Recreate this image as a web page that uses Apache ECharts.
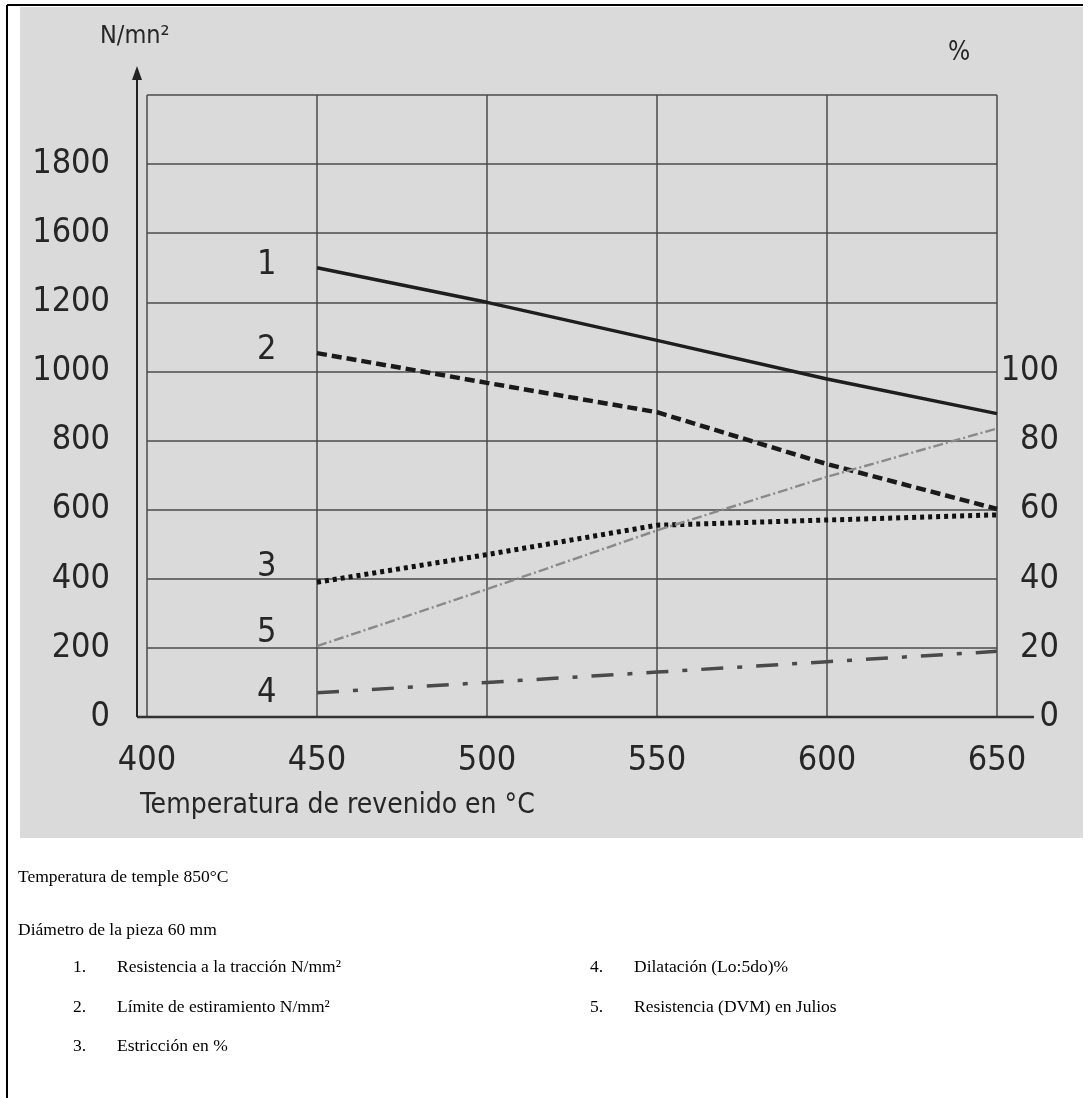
<!DOCTYPE html>
<html>
<head>
<meta charset="utf-8">
<script src="https://cdn.jsdelivr.net/npm/echarts@6/dist/echarts.min.js"></script>
<style>
html,body{margin:0;padding:0;background:#fff;}
#chart{width:1089px;height:1098px;}
</style>
</head>
<body>
<div id="chart"></div>
<script>
// ---- data ----
const temps = [450, 500, 550, 600, 650];
const resistenciaTraccion = [1300, 1200, 1090, 978, 878];   // N/mm2 (left axis)
const limiteEstiramiento = [1053, 967, 882, 732, 602];       // N/mm2 (left axis)
const estriccion = [39, 47, 55.5, 57, 58.5];                 // % (right axis)
const dilatacion = [7, 10, 13, 16, 19];                      // % (right axis)
const resistenciaJulios = [20.5, 37, 54, 69.5, 83.5];        // right axis
const seriesNumbers = ['1', '2', '3', '4', '5'];
const leftTickLabels = ['0', '200', '400', '600', '800', '1000', '1200', '1600', '1800', ''];
const rightTickLabels = ['0', '20', '40', '60', '80', '100'];
const leftUnit = 'N/mn²';
const rightUnit = '%';
const xTitle = 'Temperatura de revenido en °C';
const notes = ['Temperatura de temple 850°C', 'Diámetro de la pieza 60 mm'];
const legendLeft = ['Resistencia a la tracción N/mm²', 'Límite de estiramiento N/mm²', 'Estricción en %'];
const legendRight = ['Dilatación (Lo:5do)%', 'Resistencia (DVM) en Julios'];

const FONT = '"Liberation Sans Narrow", "DejaVu Sans Condensed", "Roboto", sans-serif';
const SERIF = '"Liberation Serif", "DejaVu Serif", serif';
const TXT = '#262626';
const TICK = 34;

const chart = echarts.init(document.getElementById('chart'), null, {renderer: 'canvas'});

function mk(name, vals, num, axisIdx, lineStyle, labelOffset) {
  return {
    name: name,
    type: 'line',
    yAxisIndex: axisIdx,
    symbol: 'circle',
    symbolSize: 1,
    showSymbol: true,
    itemStyle: {color: 'transparent'},
    lineStyle: Object.assign({cap: 'butt'}, lineStyle),
    z: 5,
    data: temps.map((t, i) => i === 0 ? {
      value: [t, vals[i]],
      label: {show: true, formatter: num, position: 'left', distance: 40, offset: labelOffset,
              fontSize: TICK, color: TXT, fontFamily: FONT}
    } : [t, vals[i]])
  };
}

const G = {left: 147, right: 92, top: 95, bottom: 381};
const graphics = [
  // gray chart background
  {type: 'rect', shape: {x: 20, y: 7, width: 1063, height: 831}, style: {fill: '#dadada'}, z: -10, silent: true},
  // page frame
  {type: 'line', shape: {x1: 7, y1: 5, x2: 1083, y2: 5}, style: {stroke: '#000', lineWidth: 2}, z: -5},
  {type: 'line', shape: {x1: 7, y1: 5, x2: 7, y2: 1098}, style: {stroke: '#000', lineWidth: 2}, z: -5},
  // axis lines
  {type: 'line', shape: {x1: 137, y1: 717, x2: 1034, y2: 717}, style: {stroke: '#333', lineWidth: 2.5}, z: 3},
  {type: 'line', shape: {x1: 137, y1: 717, x2: 137, y2: 76}, style: {stroke: '#222', lineWidth: 2}, z: 3},
  {type: 'polygon', shape: {points: [[137, 66], [132, 80], [142, 80]]}, style: {fill: '#222'}, z: 3},
  // unit labels
  {type: 'text', left: 100, top: 24, style: {text: leftUnit, fontSize: 25, fontFamily: FONT, fill: TXT}},
  {type: 'text', left: 948, top: 40, style: {text: rightUnit, fontSize: 26, fontFamily: FONT, fill: TXT}},
  // x title
  {type: 'text', left: 140, top: 792, style: {text: xTitle, fontSize: 28, fontFamily: FONT, fill: TXT}},
  // notes
  {type: 'text', left: 18, top: 868, style: {text: notes[0], fontSize: 17.5, fontFamily: SERIF, fill: '#000'}},
  {type: 'text', left: 18, top: 921, style: {text: notes[1], fontSize: 17.5, fontFamily: SERIF, fill: '#000'}}
];
const rowsY = [958, 998, 1037];
legendLeft.forEach((t, i) => {
  graphics.push({type: 'text', left: 73, top: rowsY[i], style: {text: seriesNumbers[i] + '.', fontSize: 17.5, fontFamily: SERIF, fill: '#000'}});
  graphics.push({type: 'text', left: 117, top: rowsY[i], style: {text: t, fontSize: 17.5, fontFamily: SERIF, fill: '#000'}});
});
legendRight.forEach((t, i) => {
  graphics.push({type: 'text', left: 590, top: rowsY[i], style: {text: seriesNumbers[i + 3] + '.', fontSize: 17.5, fontFamily: SERIF, fill: '#000'}});
  graphics.push({type: 'text', left: 634, top: rowsY[i], style: {text: t, fontSize: 17.5, fontFamily: SERIF, fill: '#000'}});
});

const option = {
  animation: false,
  backgroundColor: '#ffffff',
  grid: G,
  xAxis: {
    type: 'value', min: 400, max: 650, interval: 50,
    axisLine: {show: false}, axisTick: {show: false},
    axisLabel: {fontSize: TICK, fontFamily: FONT, color: TXT, margin: 27},
    splitLine: {show: true, lineStyle: {color: '#4a4a4a', width: 1.5}}
  },
  yAxis: [
    {
      type: 'value', min: 0, max: 1800, interval: 200,
      axisLine: {show: false}, axisTick: {show: false},
      axisLabel: {fontSize: TICK, fontFamily: FONT, color: TXT, margin: 37,
        formatter: v => leftTickLabels[Math.round(v / 200)] || ''},
      splitLine: {show: true, lineStyle: {color: '#4a4a4a', width: 1.5}}
    },
    {
      type: 'value', min: 0, max: 180, interval: 20, position: 'right',
      axisLine: {show: false}, axisTick: {show: false},
      axisLabel: {fontSize: TICK, fontFamily: FONT, color: TXT, margin: 62, align: 'right',
        formatter: v => rightTickLabels[Math.round(v / 20)] || ''},
      splitLine: {show: false}
    }
  ],
  series: [
    mk(legendLeft[0], resistenciaTraccion, seriesNumbers[0], 0, {color: '#1e1e1e', width: 3.5, type: 'solid'}, [0, -3]),
    mk(legendLeft[1], limiteEstiramiento, seriesNumbers[1], 0, {color: '#1a1a1a', width: 4.5, type: [10, 5]}, [0, -3]),
    mk(legendLeft[2], estriccion, seriesNumbers[2], 1, {color: '#111', width: 5, type: [4, 4]}, [0, -15]),
    mk(legendRight[0], dilatacion, seriesNumbers[3], 1, {color: '#4a4a4a', width: 3.5, type: [22, 14, 5, 14]}, [0, 0]),
    mk(legendRight[1], resistenciaJulios, seriesNumbers[4], 1, {color: '#8a8a8a', width: 2.4, type: [10, 3, 2, 3]}, [0, -13])
  ],
  graphic: graphics
};
chart.setOption(option);
</script>
</body>
</html>
